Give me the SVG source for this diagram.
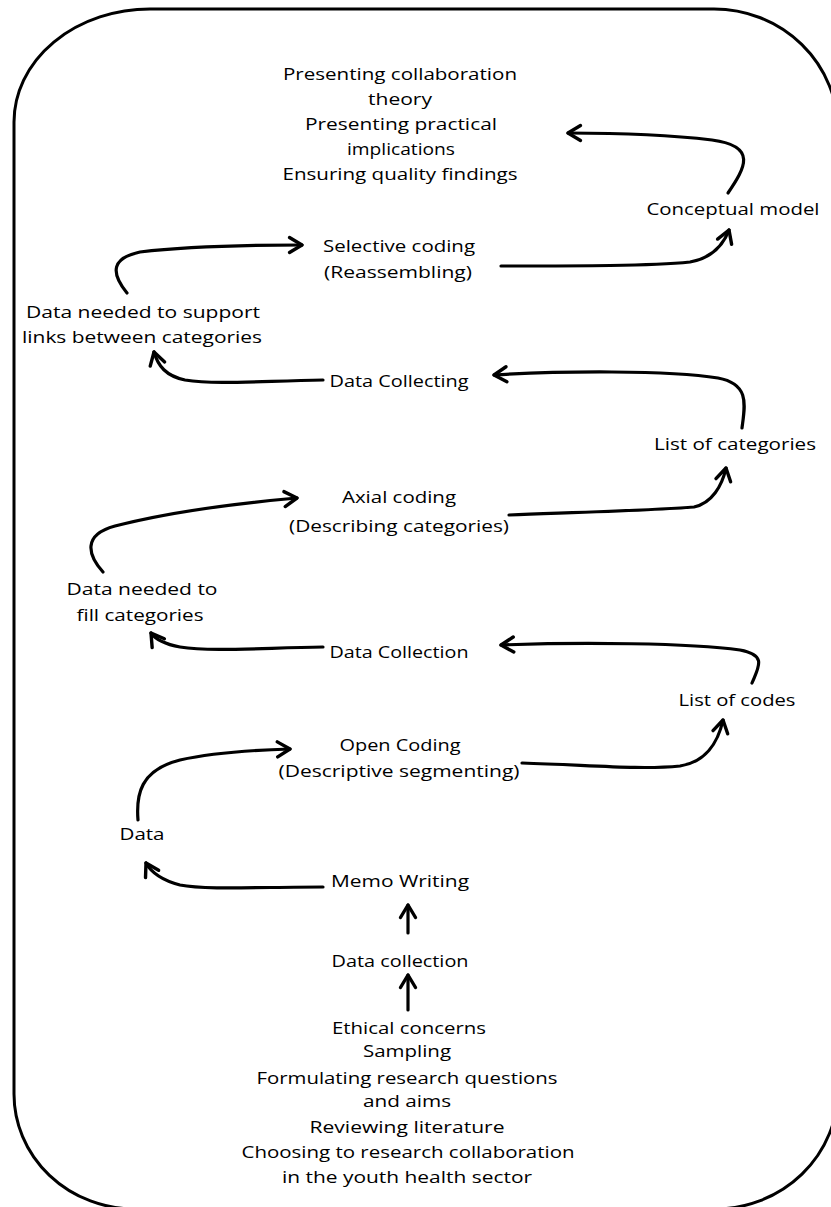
<svg xmlns="http://www.w3.org/2000/svg" width="831" height="1207" viewBox="0 0 831 1207">
  <style>
    .frame { fill: #ffffff; stroke: #000; stroke-width: 3; }
    .lbl { font-family: "Open Sans", "Noto Sans", sans-serif; font-size: 16px; font-weight: 500; fill: #000; text-anchor: middle; }
    .link { fill: none; stroke: #000; stroke-width: 3.2; stroke-linecap: round; marker-end: url(#chev); }
  </style>
  <defs>
    <marker id="chev" markerUnits="userSpaceOnUse" viewBox="0 0 20 20" markerWidth="20" markerHeight="20" refX="17" refY="10" orient="auto">
      <path d="M4.5,2.5 L17,10 L4.5,17.5" fill="none" stroke="#000" stroke-width="3.4" stroke-linecap="round" stroke-linejoin="round"/>
    </marker>
  </defs>

  <rect width="831" height="1207" fill="#fff"/>

  <!-- rounded outer frame; right and bottom edges run just past the canvas -->
  <path class="frame" d="M150,9 L714,9 A124,121 0 0 1 838,130 L838,1090 A123,119 0 0 1 715,1209 L135,1209 A121,115 0 0 1 14,1094 L14,122 A136,113 0 0 1 150,9 Z"/>

  <g id="connectors">
    <path class="link" d="M728,193 C745,168 758,146 712,140 C662,134 612,133 568,133"/>
    <path class="link" d="M501,266 C580,266 650,266 690,262 C712,258 723,246 729,230"/>
    <path class="link" d="M127,293 C110,272 112,258 140,252 C190,246 250,245 302,245"/>
    <path class="link" d="M323,380 C260,381 215,385 185,380 C166,376 158,366 154,352"/>
    <path class="link" d="M742,428 C745,405 750,384 718,378 C668,370 560,371 494,375"/>
    <path class="link" d="M509,515 C590,512 660,510 694,507 C712,503 722,486 726,468"/>
    <path class="link" d="M103,572 C88,555 82,535 115,526 C170,512 240,503 297,498"/>
    <path class="link" d="M323,647 C260,648 210,652 180,647 C164,644 156,640 151,633"/>
    <path class="link" d="M752,683 C758,668 768,655 740,650 C690,643 580,642 501,645"/>
    <path class="link" d="M522,763 C590,765 640,770 680,766 C705,762 718,743 723,720"/>
    <path class="link" d="M138,820 C136,795 140,770 180,760 C215,752 255,750 290,749"/>
    <path class="link" d="M323,887 C260,887 205,890 180,885 C161,880 151,872 146,863"/>
    <path class="link" d="M408,933 L408,905"/>
    <path class="link" d="M408,1010 L408,975"/>
  </g>

  <g id="outputs">
    <text class="lbl" x="400" y="80" textLength="234" lengthAdjust="spacingAndGlyphs">Presenting collaboration</text>
    <text class="lbl" x="400" y="105" textLength="64" lengthAdjust="spacingAndGlyphs">theory</text>
    <text class="lbl" x="401" y="130" textLength="192" lengthAdjust="spacingAndGlyphs">Presenting practical</text>
    <text class="lbl" x="401" y="155" textLength="108" lengthAdjust="spacingAndGlyphs">implications</text>
    <text class="lbl" x="400" y="180" textLength="235" lengthAdjust="spacingAndGlyphs">Ensuring quality findings</text>
  </g>

  <g id="conceptual-model">
    <text class="lbl" x="733" y="215" textLength="173" lengthAdjust="spacingAndGlyphs">Conceptual model</text>
  </g>

  <g id="selective-coding">
    <text class="lbl" x="399" y="252" textLength="152" lengthAdjust="spacingAndGlyphs">Selective coding</text>
    <text class="lbl" x="398" y="278" textLength="148" lengthAdjust="spacingAndGlyphs">(Reassembling)</text>
  </g>

  <g id="data-links">
    <text class="lbl" x="143" y="318" textLength="234" lengthAdjust="spacingAndGlyphs">Data needed to support</text>
    <text class="lbl" x="142" y="343" textLength="240" lengthAdjust="spacingAndGlyphs">links between categories</text>
  </g>

  <g id="data-collecting">
    <text class="lbl" x="399" y="387" textLength="139" lengthAdjust="spacingAndGlyphs">Data Collecting</text>
  </g>

  <g id="list-categories">
    <text class="lbl" x="735" y="450" textLength="162" lengthAdjust="spacingAndGlyphs">List of categories</text>
  </g>

  <g id="axial-coding">
    <text class="lbl" x="399" y="503" textLength="114" lengthAdjust="spacingAndGlyphs">Axial coding</text>
    <text class="lbl" x="399" y="532" textLength="220" lengthAdjust="spacingAndGlyphs">(Describing categories)</text>
  </g>

  <g id="data-fill">
    <text class="lbl" x="142" y="595" textLength="151" lengthAdjust="spacingAndGlyphs">Data needed to</text>
    <text class="lbl" x="140" y="621" textLength="127" lengthAdjust="spacingAndGlyphs">fill categories</text>
  </g>

  <g id="data-collection-2">
    <text class="lbl" x="399" y="658" textLength="139" lengthAdjust="spacingAndGlyphs">Data Collection</text>
  </g>

  <g id="list-codes">
    <text class="lbl" x="737" y="706" textLength="117" lengthAdjust="spacingAndGlyphs">List of codes</text>
  </g>

  <g id="open-coding">
    <text class="lbl" x="400" y="751" textLength="121" lengthAdjust="spacingAndGlyphs">Open Coding</text>
    <text class="lbl" x="399" y="777" textLength="241" lengthAdjust="spacingAndGlyphs">(Descriptive segmenting)</text>
  </g>

  <g id="data">
    <text class="lbl" x="142" y="840" textLength="45" lengthAdjust="spacingAndGlyphs">Data</text>
  </g>

  <g id="memo-writing">
    <text class="lbl" x="400" y="887" textLength="138" lengthAdjust="spacingAndGlyphs">Memo Writing</text>
  </g>

  <g id="data-collection-1">
    <text class="lbl" x="400" y="967" textLength="137" lengthAdjust="spacingAndGlyphs">Data collection</text>
  </g>

  <g id="preparation">
    <text class="lbl" x="409" y="1034" textLength="154" lengthAdjust="spacingAndGlyphs">Ethical concerns</text>
    <text class="lbl" x="407" y="1057" textLength="88" lengthAdjust="spacingAndGlyphs">Sampling</text>
    <text class="lbl" x="407" y="1084" textLength="301" lengthAdjust="spacingAndGlyphs">Formulating research questions</text>
    <text class="lbl" x="407" y="1107" textLength="88" lengthAdjust="spacingAndGlyphs">and aims</text>
    <text class="lbl" x="407" y="1133" textLength="195" lengthAdjust="spacingAndGlyphs">Reviewing literature</text>
    <text class="lbl" x="408" y="1158" textLength="333" lengthAdjust="spacingAndGlyphs">Choosing to research collaboration</text>
    <text class="lbl" x="407" y="1183" textLength="250" lengthAdjust="spacingAndGlyphs">in the youth health sector</text>
  </g>
</svg>
